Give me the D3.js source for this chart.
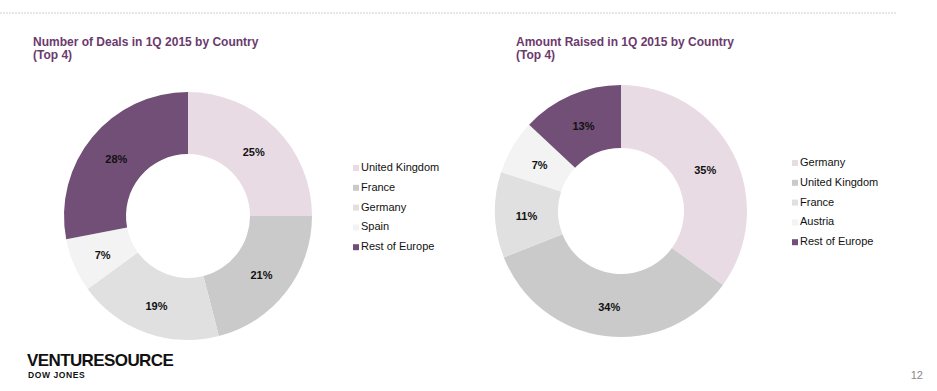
<!DOCTYPE html>
<html>
<head>
<meta charset="utf-8">
<script src="https://cdn.jsdelivr.net/npm/d3@7"></script>
<style>
  body { margin: 0; background: #fff; }
  svg { display: block; font-family: "Liberation Sans", Arial, sans-serif; }
</style>
</head>
<body>
<svg class="canvas" width="937" height="391"></svg>
<script>
// deals chart
var dealsCountries = ['United Kingdom', 'France', 'Germany', 'Spain', 'Rest of Europe'];
var dealsShares = [25, 21, 19, 7, 28];

// amount chart
var amountCountries = ['Germany', 'United Kingdom', 'France', 'Austria', 'Rest of Europe'];
var amountShares = [35, 34, 11, 7, 13];

var sliceColors = ['#e8dbe4', '#cacaca', '#e0e0e0', '#f3f3f3', '#714f77'];

var svg = d3.select('.canvas');

// dotted rule at the top
svg.append('line')
    .attr('x1', 0).attr('x2', 897)
    .attr('y1', 13).attr('y2', 13)
    .attr('stroke', '#cfcfcf')
    .attr('stroke-width', 1)
    .attr('stroke-dasharray', '2,1');

function donut (opts) {
    var g = svg.append('g');

    // two separate lines so they don't share a box
    g.append('text')
        .attr('x', opts.titleX)
        .attr('y', 46)
        .attr('fill', '#6b3a6d')
        .attr('font-size', 12)
        .attr('font-weight', 'bold')
        .text(opts.title);
    g.append('text')
        .attr('x', opts.titleX)
        .attr('y', 59)
        .attr('fill', '#6b3a6d')
        .attr('font-size', 12)
        .attr('font-weight', 'bold')
        .text('(Top 4)');

    var pie = d3.pie().sort(null).value(function(d){ return d.value; });
    var arc = d3.arc().innerRadius(opts.inner).outerRadius(opts.outer);
    var mid = (opts.inner + opts.outer) / 2;
    var labelArc = d3.arc().innerRadius(mid).outerRadius(mid);

    var data = opts.names.map(function(n, i){ return {name: n, value: opts.values[i], color: sliceColors[i]}; });

    var chart = g.append('g')
        .attr('transform', 'translate(' + opts.cx + ',' + opts.cy + ')');

    var slices = chart.selectAll('.slice')
        .data(pie(data))
        .enter().append('g')
        .classed('slice', true);

    slices.append('path')
        .attr('d', arc)
        .attr('fill', function(d){ return d.data.color; });

    slices.append('text')
        .attr('transform', function(d){ return 'translate(' + labelArc.centroid(d) + ')'; })
        .attr('text-anchor', 'middle')
        .attr('dy', '0.55em')
        .attr('font-size', 11)
        .attr('font-weight', 'bold')
        .attr('fill', '#111')
        .text(function(d){ return d.data.value + '%'; });

    var legend = g.append('g')
        .attr('transform', 'translate(' + opts.legendX + ',' + opts.legendY + ')');

    var rows = legend.selectAll('.row')
        .data(data)
        .enter().append('g')
        .classed('row', true)
        .attr('transform', function(d, i){ return 'translate(0,' + (i * 19.8) + ')'; });

    rows.append('rect')
        .attr('x', 0).attr('y', -6)
        .attr('width', 6).attr('height', 6)
        .attr('fill', function(d){ return d.color; });

    rows.append('text')
        .attr('x', 8)
        .attr('y', 0)
        .attr('font-size', 11)
        .attr('fill', '#111')
        .text(function(d){ return d.name; });
}

donut({
    title: 'Number of Deals in 1Q 2015 by Country',
    titleX: 33,
    names: dealsCountries,
    values: dealsShares,
    cx: 188, cy: 216, outer: 124, inner: 62,
    legendX: 353, legendY: 171
});

donut({
    title: 'Amount Raised in 1Q 2015 by Country',
    titleX: 516,
    names: amountCountries,
    values: amountShares,
    cx: 621, cy: 211, outer: 126, inner: 63,
    legendX: 792, legendY: 166
});

// footer
svg.append('text')
    .attr('x', 27).attr('y', 366)
    .attr('font-size', 17)
    .attr('font-weight', 'bold')
    .attr('letter-spacing', -0.6)
    .attr('fill', '#111')
    .text('VENTURESOURCE');

svg.append('text')
    .attr('x', 28).attr('y', 378)
    .attr('font-size', 8.5)
    .attr('font-weight', 'bold')
    .attr('letter-spacing', 0.6)
    .attr('fill', '#111')
    .text('DOW JONES');

svg.append('text')
    .attr('x', 923).attr('y', 379)
    .attr('text-anchor', 'end')
    .attr('font-size', 11)
    .attr('fill', '#888')
    .text('12');
</script>
</body>
</html>
